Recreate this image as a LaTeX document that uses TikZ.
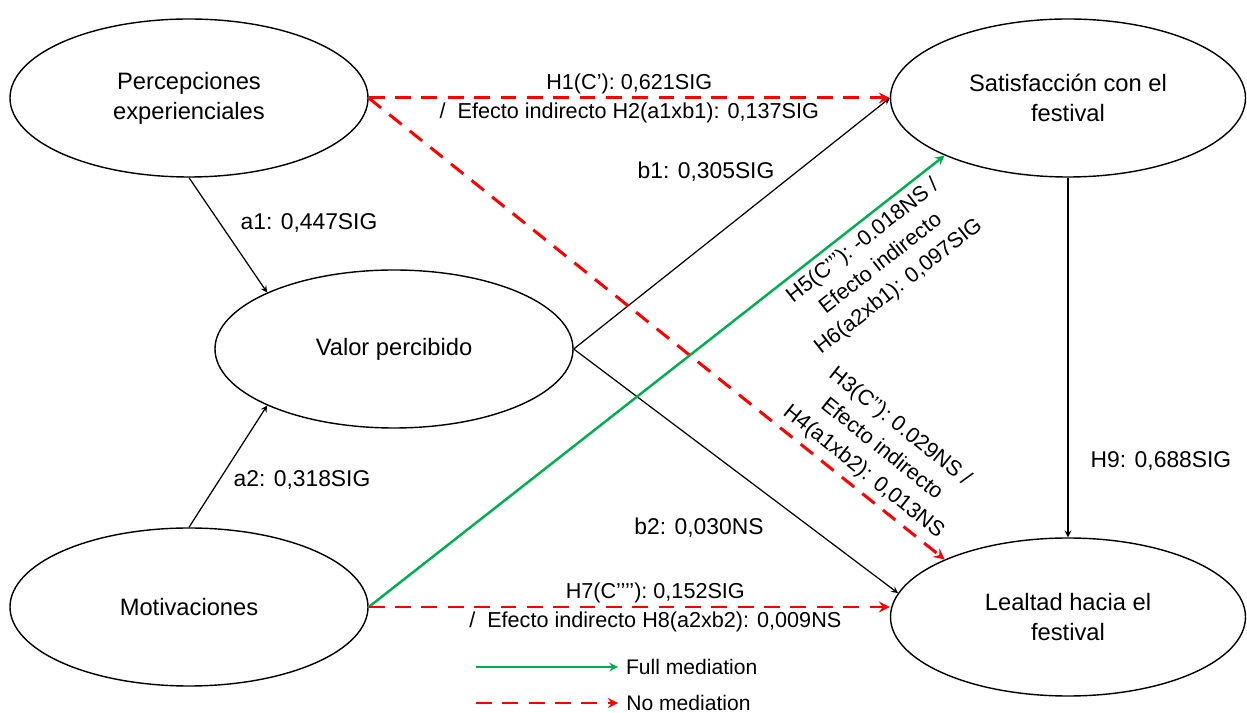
\documentclass[tikz,border=0pt]{standalone}
\usepackage{fontspec}
\setmainfont{Liberation Sans}
\usetikzlibrary{shapes.geometric}
\definecolor{medgreen}{RGB}{0,176,80}
\definecolor{medred}{RGB}{255,0,0}

\begin{document}
\begin{tikzpicture}[
  construct/.style={draw, ellipse, line width=0.8pt, minimum width=7.16cm, minimum height=3.16cm, inner sep=0pt, align=center, font=\fontsize{13.5}{17}\selectfont},
  arr/.style={->, >=stealth, line width=0.7pt},
  full/.style={->, >=stealth, line width=1.4pt, draw=medgreen},
  nomed/.style={->, >=stealth, line width=1.7pt, draw=medred, dash pattern=on 9pt off 6pt},
  coef/.style={font=\fontsize{13}{16}\selectfont},
  hyp/.style={font=\fontsize{12.3}{16.5}\selectfont, align=center},
  legend/.style={font=\fontsize{12}{14}\selectfont, right, inner sep=4pt},
]
\useasboundingbox (0,0) rectangle (24.94,14.26);
\node[construct] (perc) at (3.78, 12.30) {Percepciones\\experienciales};
\node[construct] (valor) at (7.88, 7.28) {Valor percibido};
\node[construct] (motiv) at (3.78, 2.12) {Motivaciones};
\node[construct, minimum width=7.1cm] (satis) at (21.36, 12.30) {Satisfacción con el\\festival};
\node[construct, minimum width=7.1cm] (leal) at (21.36, 1.92) {Lealtad hacia el\\festival};
% Paths a, b and H9
\draw[arr] (perc.south) -- (valor.156);
\draw[arr] (motiv.north) -- (valor.204);
\draw[arr] (valor.east) -- (satis.west);
\draw[arr] (valor.east) -- (leal.172);
\draw[arr] (satis.south) -- (leal.north);
\node[coef] (a1lab) at (6.18, 9.80) {a1: 0,447SIG};
\node[coef] (a2lab) at (6.04, 4.66) {a2: 0,318SIG};
\node[coef] (b1lab) at (14.12, 10.82) {b1: 0,305SIG};
\node[coef] (b2lab) at (13.98, 3.70) {b2: 0,030NS};
\node[coef] (h9lab) at (23.22, 5.04) {H9: 0,688SIG};
% Direct effects
\draw[nomed] (perc.east) -- node[hyp]{H1(C’): 0,621SIG\\/ \ Efecto indirecto H2(a1xb1): 0,137SIG} (satis.west);
\draw[nomed] (perc.east) -- node[hyp, sloped, above, pos=0.84]{H3(C’’): 0.029NS /\\Efecto indirecto\\H4(a1xb2): 0,013NS} (leal.155);
\draw[full] (motiv.east) -- node[hyp, sloped, below, pos=0.84]{H5(C’’’): -0.018NS /\\Efecto indirecto\\H6(a2xb1): 0,097SIG} (satis.205);
\draw[nomed] (motiv.east) -- node[hyp, pos=0.55]{H7(C’’’’): 0,152SIG\\/ \ Efecto indirecto H8(a2xb2): 0,009NS} (motiv.east -| leal.west);
% Legend
\coordinate (fullA) at (9.52, 0.92);
\coordinate (fullB) at (12.36, 0.92);
\coordinate (nomedA) at (9.52, 0.20);
\coordinate (nomedB) at (12.36, 0.20);
\draw[full, line width=1.2pt] (fullA) -- (fullB) node[legend]{Full mediation};
\draw[nomed, line width=1.5pt] (nomedA) -- (nomedB) node[legend]{No mediation};
\end{tikzpicture}
\end{document}
